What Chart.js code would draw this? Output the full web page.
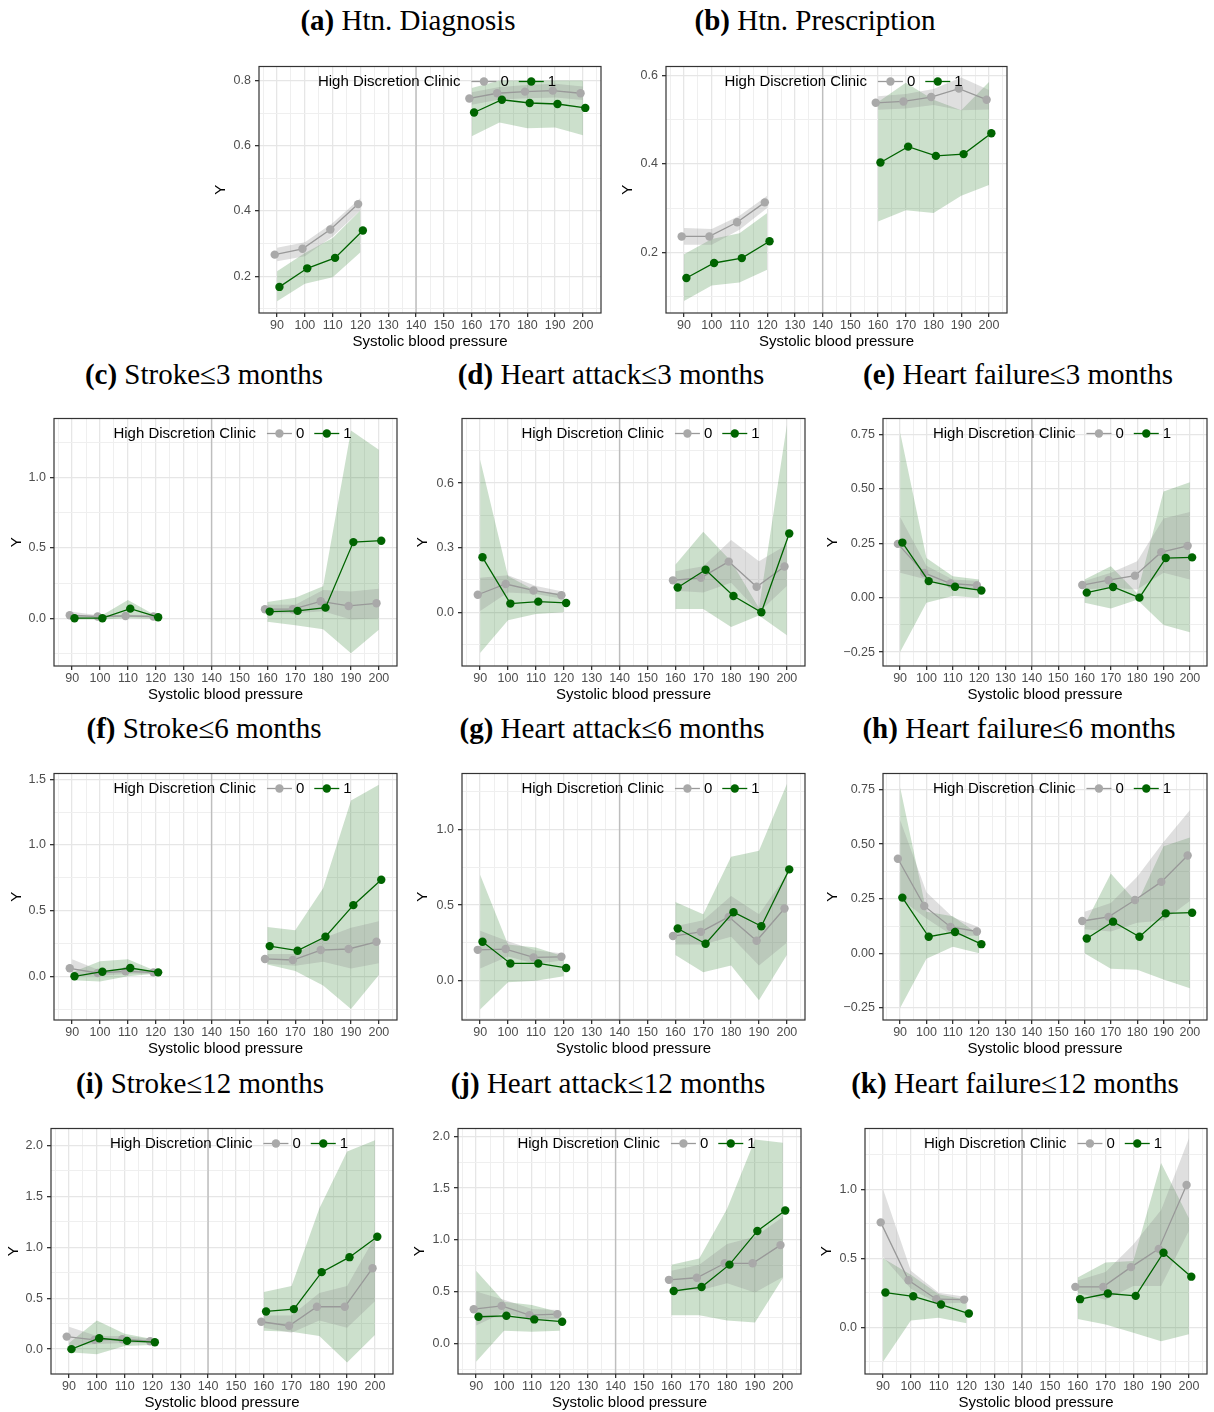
<!DOCTYPE html>
<html>
<head>
<meta charset="utf-8">
<script src="https://cdn.jsdelivr.net/npm/chart.js@4.4.1/dist/chart.umd.min.js"></script>
<style>
html, body { margin: 0; padding: 0; background: #fff; overflow: hidden; }
body { position: relative; width: 1214px; height: 1412px; }
.ttl { position: absolute; font-family: "Liberation Serif", "Times New Roman", serif; font-size: 29px;
       line-height: 32px; white-space: nowrap; transform: translateX(-50%); color: #000; }
canvas { position: absolute; }
</style>
</head>
<body>
<script>
// systolic blood pressure bins and x tick labels
const sbp = [90, 100, 110, 120, 160, 170, 180, 190, 200];
const xTickLabels = ['90','100','110','120','130','140','150','160','170','180','190','200'];
const cutoff = 140;
const legendTitle = 'High Discretion Clinic';
const legendLabels = ['0', '1'];

// (a) Htn. Diagnosis
const diag0   = [0.266, 0.284, 0.343, 0.421, 0.745, 0.761, 0.766, 0.769, 0.761];
const diag0Lo = [0.246, 0.261, 0.322, 0.402, 0.726, 0.742, 0.746, 0.748, 0.740];
const diag0Hi = [0.287, 0.304, 0.363, 0.440, 0.764, 0.780, 0.786, 0.790, 0.782];
const diag1   = [0.167, 0.224, 0.256, 0.340, 0.702, 0.741, 0.731, 0.728, 0.716];
const diag1Lo = [0.123, 0.177, 0.197, 0.273, 0.629, 0.671, 0.654, 0.656, 0.632];
const diag1Hi = [0.215, 0.271, 0.317, 0.402, 0.777, 0.800, 0.800, 0.800, 0.800];

// (b) Htn. Prescription
const presc0   = [0.236, 0.236, 0.268, 0.313, 0.538, 0.541, 0.551, 0.570, 0.545];
const presc0Lo = [0.217, 0.217, 0.251, 0.300, 0.522, 0.525, 0.533, 0.521, 0.523];
const presc0Hi = [0.255, 0.253, 0.283, 0.328, 0.553, 0.558, 0.569, 0.595, 0.567];
const presc1   = [0.142, 0.176, 0.187, 0.225, 0.403, 0.439, 0.418, 0.422, 0.469];
const presc1Lo = [0.090, 0.125, 0.132, 0.161, 0.270, 0.295, 0.289, 0.328, 0.352];
const presc1Hi = [0.196, 0.230, 0.243, 0.289, 0.540, 0.583, 0.545, 0.521, 0.585];

// (c) Stroke <= 3 months
const str3_0   = [0.021, 0.012, 0.016, 0.012, 0.064, 0.064, 0.120, 0.087, 0.106];
const str3_0Lo = [0.000, 0.004, 0.008, 0.004, 0.035, 0.035, 0.050, -0.010, 0.000];
const str3_0Hi = [0.045, 0.020, 0.025, 0.020, 0.095, 0.095, 0.200, 0.190, 0.210];
const str3_1   = [0.000, 0.000, 0.068, 0.007, 0.047, 0.052, 0.075, 0.541, 0.551];
const str3_1Lo = [-0.010, -0.010, 0.000, -0.005, -0.026, -0.050, -0.078, -0.250, -0.082];
const str3_1Hi = [0.020, 0.012, 0.130, 0.020, 0.115, 0.146, 0.228, 1.334, 1.198];

// (d) Heart attack <= 3 months
const ha3_0   = [0.081, 0.131, 0.101, 0.079, 0.148, 0.160, 0.235, 0.118, 0.212];
const ha3_0Lo = [0.005, 0.092, 0.084, 0.061, 0.100, 0.092, 0.137, 0.000, 0.122];
const ha3_0Hi = [0.160, 0.172, 0.122, 0.095, 0.190, 0.214, 0.336, 0.237, 0.313];
const ha3_1   = [0.255, 0.040, 0.049, 0.043, 0.115, 0.197, 0.075, 0.000, 0.366];
const ha3_1Lo = [-0.190, -0.038, -0.008, 0.000, 0.015, 0.015, -0.069, -0.015, -0.107];
const ha3_1Hi = [0.710, 0.168, 0.099, 0.084, 0.221, 0.374, 0.237, 0.020, 0.870];

// (e) Heart failure <= 3 months
const hf3_0   = [0.247, 0.114, 0.065, 0.056, 0.058, 0.080, 0.101, 0.209, 0.238];
const hf3_0Lo = [0.114, 0.083, 0.053, 0.038, 0.038, 0.045, 0.038, 0.114, 0.083];
const hf3_0Hi = [0.371, 0.147, 0.083, 0.076, 0.076, 0.114, 0.167, 0.364, 0.394];
const hf3_1   = [0.253, 0.076, 0.050, 0.033, 0.023, 0.049, 0.000, 0.182, 0.185];
const hf3_1Lo = [-0.250, -0.023, 0.008, 0.000, -0.023, -0.050, -0.010, -0.126, -0.159];
const hf3_1Hi = [0.760, 0.182, 0.098, 0.083, 0.083, 0.144, 0.020, 0.488, 0.530];

// (f) Stroke <= 6 months
const str6_0   = [0.061, 0.025, 0.038, 0.030, 0.132, 0.124, 0.200, 0.208, 0.263];
const str6_0Lo = [0.000, 0.005, 0.020, 0.020, 0.095, 0.080, 0.110, 0.060, 0.100];
const str6_0Hi = [0.130, 0.045, 0.060, 0.040, 0.170, 0.170, 0.290, 0.370, 0.420];
const str6_1   = [0.000, 0.035, 0.063, 0.030, 0.230, 0.195, 0.301, 0.542, 0.735];
const str6_1Lo = [-0.030, -0.040, 0.000, 0.020, 0.090, 0.040, -0.070, -0.250, 0.010];
const str6_1Hi = [0.030, 0.115, 0.130, 0.040, 0.375, 0.350, 0.670, 1.340, 1.460];

// (g) Heart attack <= 6 months
const ha6_0   = [0.204, 0.209, 0.154, 0.158, 0.295, 0.323, 0.422, 0.264, 0.477];
const ha6_0Lo = [0.080, 0.160, 0.110, 0.135, 0.240, 0.240, 0.290, 0.100, 0.250];
const ha6_0Hi = [0.330, 0.260, 0.200, 0.180, 0.360, 0.400, 0.560, 0.440, 0.700];
const ha6_1   = [0.257, 0.114, 0.114, 0.084, 0.345, 0.244, 0.453, 0.360, 0.736];
const ha6_1Lo = [-0.190, -0.010, 0.000, 0.030, 0.170, 0.055, 0.100, -0.130, 0.170];
const ha6_1Hi = [0.700, 0.240, 0.220, 0.160, 0.520, 0.440, 0.820, 0.860, 1.300];

// (h) Heart failure <= 6 months
const hf6_0   = [0.433, 0.217, 0.121, 0.100, 0.148, 0.167, 0.244, 0.327, 0.448];
const hf6_0Lo = [0.250, 0.160, 0.080, 0.080, 0.110, 0.100, 0.140, 0.150, 0.240];
const hf6_0Hi = [0.610, 0.280, 0.165, 0.120, 0.190, 0.230, 0.350, 0.510, 0.655];
const hf6_1   = [0.255, 0.076, 0.098, 0.042, 0.068, 0.145, 0.076, 0.183, 0.186];
const hf6_1Lo = [-0.250, -0.025, 0.030, 0.000, 0.000, -0.070, -0.075, -0.120, -0.160];
const hf6_1Hi = [0.760, 0.190, 0.170, 0.085, 0.130, 0.365, 0.230, 0.490, 0.530];

// (i) Stroke <= 12 months
const str12_0   = [0.123, 0.091, 0.097, 0.078, 0.269, 0.230, 0.416, 0.416, 0.795];
const str12_0Lo = [0.030, 0.050, 0.060, 0.060, 0.210, 0.160, 0.280, 0.210, 0.470];
const str12_0Hi = [0.220, 0.130, 0.130, 0.100, 0.330, 0.330, 0.550, 0.620, 1.100];
const str12_1   = [0.000, 0.107, 0.081, 0.068, 0.370, 0.393, 0.756, 0.903, 1.104];
const str12_1Lo = [-0.030, -0.050, 0.030, 0.040, 0.180, 0.170, 0.130, -0.130, 0.140];
const str12_1Hi = [0.060, 0.280, 0.150, 0.100, 0.560, 0.620, 1.380, 1.940, 2.050];

// (j) Heart attack <= 12 months
const ha12_0   = [0.329, 0.361, 0.272, 0.281, 0.613, 0.633, 0.773, 0.773, 0.949];
const ha12_0Lo = [0.170, 0.300, 0.220, 0.240, 0.530, 0.510, 0.580, 0.490, 0.640];
const ha12_0Hi = [0.500, 0.420, 0.330, 0.320, 0.700, 0.760, 0.960, 1.030, 1.220];
const ha12_1   = [0.256, 0.265, 0.230, 0.208, 0.505, 0.543, 0.760, 1.086, 1.284];
const ha12_1Lo = [-0.180, 0.120, 0.110, 0.120, 0.270, 0.270, 0.220, 0.200, 0.630];
const ha12_1Hi = [0.700, 0.400, 0.370, 0.300, 0.760, 0.820, 1.300, 1.970, 1.940];

// (k) Heart failure <= 12 months
const hf12_0   = [0.760, 0.341, 0.204, 0.201, 0.293, 0.293, 0.436, 0.568, 1.031];
const hf12_0Lo = [0.510, 0.280, 0.170, 0.180, 0.250, 0.200, 0.300, 0.300, 0.700];
const hf12_0Hi = [1.000, 0.410, 0.250, 0.220, 0.340, 0.400, 0.600, 0.850, 1.370];
const hf12_1   = [0.252, 0.225, 0.165, 0.100, 0.204, 0.245, 0.228, 0.540, 0.367];
const hf12_1Lo = [-0.250, 0.050, 0.070, 0.030, 0.060, 0.020, -0.040, -0.100, -0.050];
const hf12_1Hi = [0.500, 0.380, 0.240, 0.200, 0.360, 0.470, 0.480, 1.190, 0.790];

// y tick labels
const yTicksA = ['0.2', '0.4', '0.6', '0.8'];
const yTicksB = ['0.2', '0.4', '0.6'];
const yTicksHalf = ['0.0', '0.5', '1.0'];
const yTicksHalf15 = ['0.0', '0.5', '1.0', '1.5'];
const yTicksHalf20 = ['0.0', '0.5', '1.0', '1.5', '2.0'];
const yTicksD = ['0.0', '0.3', '0.6'];
const yTicksQ = ['\u22120.25', '0.00', '0.25', '0.50', '0.75'];

const panels = [
  { tag: '(a)', name: 'Htn. Diagnosis', s: [diag0, diag0Lo, diag0Hi, diag1, diag1Lo, diag1Hi], yMin: 0.087, yMax: 0.843, yt: yTicksA },
  { tag: '(b)', name: 'Htn. Prescription', s: [presc0, presc0Lo, presc0Hi, presc1, presc1Lo, presc1Hi], yMin: 0.063, yMax: 0.62, yt: yTicksB },
  { tag: '(c)', name: 'Stroke\u22643 months', s: [str3_0, str3_0Lo, str3_0Hi, str3_1, str3_1Lo, str3_1Hi], yMin: -0.34, yMax: 1.42, yt: yTicksHalf },
  { tag: '(d)', name: 'Heart attack\u22643 months', s: [ha3_0, ha3_0Lo, ha3_0Hi, ha3_1, ha3_1Lo, ha3_1Hi], yMin: -0.25, yMax: 0.9, yt: yTicksD },
  { tag: '(e)', name: 'Heart failure\u22643 months', s: [hf3_0, hf3_0Lo, hf3_0Hi, hf3_1, hf3_1Lo, hf3_1Hi], yMin: -0.314, yMax: 0.823, yt: yTicksQ },
  { tag: '(f)', name: 'Stroke\u22646 months', s: [str6_0, str6_0Lo, str6_0Hi, str6_1, str6_1Lo, str6_1Hi], yMin: -0.333, yMax: 1.545, yt: yTicksHalf15 },
  { tag: '(g)', name: 'Heart attack\u22646 months', s: [ha6_0, ha6_0Lo, ha6_0Hi, ha6_1, ha6_1Lo, ha6_1Hi], yMin: -0.26, yMax: 1.37, yt: yTicksHalf },
  { tag: '(h)', name: 'Heart failure\u22646 months', s: [hf6_0, hf6_0Lo, hf6_0Hi, hf6_1, hf6_1Lo, hf6_1Hi], yMin: -0.305, yMax: 0.823, yt: yTicksQ },
  { tag: '(i)', name: 'Stroke\u226412 months', s: [str12_0, str12_0Lo, str12_0Hi, str12_1, str12_1Lo, str12_1Hi], yMin: -0.244, yMax: 2.166, yt: yTicksHalf20 },
  { tag: '(j)', name: 'Heart attack\u226412 months', s: [ha12_0, ha12_0Lo, ha12_0Hi, ha12_1, ha12_1Lo, ha12_1Hi], yMin: -0.298, yMax: 2.077, yt: yTicksHalf20 },
  { tag: '(k)', name: 'Heart failure\u226412 months', s: [hf12_0, hf12_0Lo, hf12_0Hi, hf12_1, hf12_1Lo, hf12_1Hi], yMin: -0.338, yMax: 1.44, yt: yTicksHalf }
];

// page layout: plot box [left, right, top, bottom], y-axis width, title centre x / y
const boxes = [
  [259, 601, 64.5, 312, 47, 408, 21], [666, 1007, 64.5, 312, 47, 815, 21],
  [54, 397, 417, 666, 46, 204, 375], [462, 805, 417, 666, 48, 611, 375], [883, 1207, 417, 666, 59, 1018, 375],
  [54, 397, 772, 1020, 46, 204, 729], [462, 805, 772, 1020, 48, 612, 729], [883, 1207, 772, 1020, 59, 1019, 729],
  [51, 393, 1127, 1374, 46, 200, 1084], [458, 801, 1127, 1374, 47, 608, 1084], [865, 1207, 1127, 1374, 47, 1015, 1084]
];

const DODGE = 0.85;
const SANS = '"Liberation Sans", Arial, Helvetica, sans-serif';
const groups = [
  { line: '#999999', pt: '#a9a9a9', band: 'rgba(140,140,140,0.28)', dx: -DODGE, order: 2 },
  { line: '#006400', pt: '#006400', band: 'rgba(0,100,0,0.2)', dx: DODGE, order: 1 }
];

Chart.defaults.font.family = SANS;

const xTickVals = xTickLabels.map(Number);
const xGrid = [];
for (let v = 85; v <= 205; v += 5) {
  const i = xTickVals.indexOf(v);
  xGrid.push({ value: v, mj: i >= 0, lab: i >= 0 ? xTickLabels[i] : '' });
}

function yGrid(p) {
  const maj = p.yt.map(s => parseFloat(s.replace('\u2212', '-')));
  const step = maj[1] - maj[0];
  const out = maj.map((v, i) => ({ value: v, mj: true, lab: p.yt[i] }));
  maj.forEach(v => out.push({ value: v - step / 2, mj: false, lab: '' }));
  out.push({ value: maj[maj.length - 1] + step / 2, mj: false, lab: '' });
  return out.filter(t => t.value >= p.yMin && t.value <= p.yMax).sort((a, b) => a.value - b.value);
}

const panelDecor = {
  id: 'panelDecor',
  beforeDatasetsDraw(chart) {
    const { ctx, chartArea: a } = chart;
    const x = chart.scales.x.getPixelForValue(cutoff);
    ctx.save();
    ctx.strokeStyle = '#bebebe';
    ctx.lineWidth = 1.4;
    ctx.beginPath(); ctx.moveTo(x, a.top); ctx.lineTo(x, a.bottom); ctx.stroke();
    ctx.restore();
  },
  afterDatasetsDraw(chart) {
    const { ctx, chartArea: a } = chart;
    ctx.save();
    ctx.font = '15px ' + SANS;
    ctx.textBaseline = 'middle';
    const tw = ctx.measureText(legendTitle).width;
    const lw = legendLabels.map(l => ctx.measureText(l).width);
    const keyW = 25, g1 = 11, g2 = 4, g3 = 10;
    const total = tw + g1 + (keyW + g2) * 2 + lw[0] + g3 + lw[1];
    let x = (a.left + a.right) / 2 + 7 - total / 2;
    const y = a.top + 15;
    ctx.fillStyle = '#000';
    ctx.fillText(legendTitle, x, y);
    x += tw + g1;
    groups.forEach((g, i) => {
      ctx.strokeStyle = g.line; ctx.lineWidth = 1.3;
      ctx.beginPath(); ctx.moveTo(x, y); ctx.lineTo(x + keyW, y); ctx.stroke();
      ctx.fillStyle = g.pt;
      ctx.beginPath(); ctx.arc(x + keyW / 2, y, 4.2, 0, Math.PI * 2); ctx.fill();
      x += keyW + g2;
      ctx.fillStyle = '#000';
      ctx.fillText(legendLabels[i], x, y);
      x += lw[i] + g3;
    });
    ctx.restore();
  },
  afterDraw(chart) {
    const { ctx, chartArea: a } = chart;
    ctx.save();
    ctx.strokeStyle = '#333333';
    ctx.lineWidth = 1.2;
    ctx.strokeRect(a.left, a.top, a.right - a.left, a.bottom - a.top);
    ctx.restore();
  }
};

function gridOpts() {
  return {
    color: c => (c.tick && c.tick.mj ? '#e6e6e6' : '#efefef'),
    lineWidth: c => (c.tick && c.tick.mj ? 1.3 : 1),
    tickColor: c => (c.tick && c.tick.mj ? '#333333' : 'rgba(0,0,0,0)'),
    tickLength: 4,
    drawTicks: true
  };
}

panels.forEach((p, k) => {
  const [L, R, T, B, yw, tx, ty] = boxes[k];
  const padR = R > 1100 ? 6 : 12;

  const t = document.createElement('div');
  t.className = 'ttl';
  t.style.left = tx + 'px';
  t.style.top = (ty - 17) + 'px';
  t.innerHTML = '<b>' + p.tag + '</b> ' + p.name;
  document.body.appendChild(t);

  const W = Math.round(yw + (R - L) + padR);
  const H = Math.round(10 + (B - T) + 40);
  const cv = document.createElement('canvas');
  cv.width = W; cv.height = H;
  cv.style.width = W + 'px'; cv.style.height = H + 'px';
  cv.style.left = (L - yw) + 'px';
  cv.style.top = Math.round(T - 10) + 'px';
  document.body.appendChild(cv);

  const datasets = [];
  const segs = [[0, 4], [4, 9]];
  groups.forEach((g, gi) => {
    const ys = p.s[gi * 3], lo = p.s[gi * 3 + 1], hi = p.s[gi * 3 + 2];
    segs.forEach(([s, e]) => {
      const idx = [];
      for (let i = s; i < e; i++) idx.push(i);
      datasets.push({ data: idx.map(i => ({ x: sbp[i], y: hi[i] })), fill: '+1', backgroundColor: g.band,
        borderWidth: 0, pointRadius: 0, order: 10 });
      datasets.push({ data: idx.map(i => ({ x: sbp[i], y: lo[i] })), fill: false,
        borderWidth: 0, pointRadius: 0, order: 10 });
    });
    const pts = [];
    sbp.forEach((v, i) => {
      if (i === 4) pts.push({ x: cutoff, y: null });
      pts.push({ x: v + g.dx, y: ys[i] });
    });
    datasets.push({ data: pts, borderColor: g.line, borderWidth: 1.3, pointRadius: 4.2,
      pointBackgroundColor: g.pt, pointBorderWidth: 0, fill: false, spanGaps: false, order: g.order });
  });

  const yt = yGrid(p);
  new Chart(cv, {
    type: 'line',
    data: { datasets },
    options: {
      responsive: false,
      animation: false,
      events: [],
      layout: { padding: { top: 10, right: padR, left: 0, bottom: 0 } },
      plugins: { legend: { display: false }, tooltip: { enabled: false } },
      scales: {
        x: {
          type: 'linear', min: 83.5, max: 206.5,
          afterBuildTicks: s => { s.ticks = xGrid.map(o => ({ ...o })); },
          afterFit: s => { s.height = 40; },
          ticks: { autoSkip: false, maxRotation: 0, padding: 1, color: '#4d4d4d', font: { size: 12.5 },
            callback: (v, i, ticks) => ticks[i].lab },
          grid: gridOpts(),
          border: { display: false },
          title: { display: true, text: 'Systolic blood pressure', color: '#000', font: { size: 15 },
            padding: { top: 0, bottom: 2 } }
        },
        y: {
          type: 'linear', min: p.yMin, max: p.yMax,
          afterBuildTicks: s => { s.ticks = yt.map(o => ({ ...o })); },
          afterFit: s => { s.width = yw; },
          ticks: { autoSkip: false, padding: 4, color: '#4d4d4d', font: { size: 12.5 },
            callback: (v, i, ticks) => ticks[i].lab },
          grid: gridOpts(),
          border: { display: false },
          title: { display: true, text: 'Y', color: '#000', font: { size: 15 }, padding: { top: 0, bottom: 0 } }
        }
      }
    },
    plugins: [panelDecor]
  });
});
</script>
</body>
</html>
